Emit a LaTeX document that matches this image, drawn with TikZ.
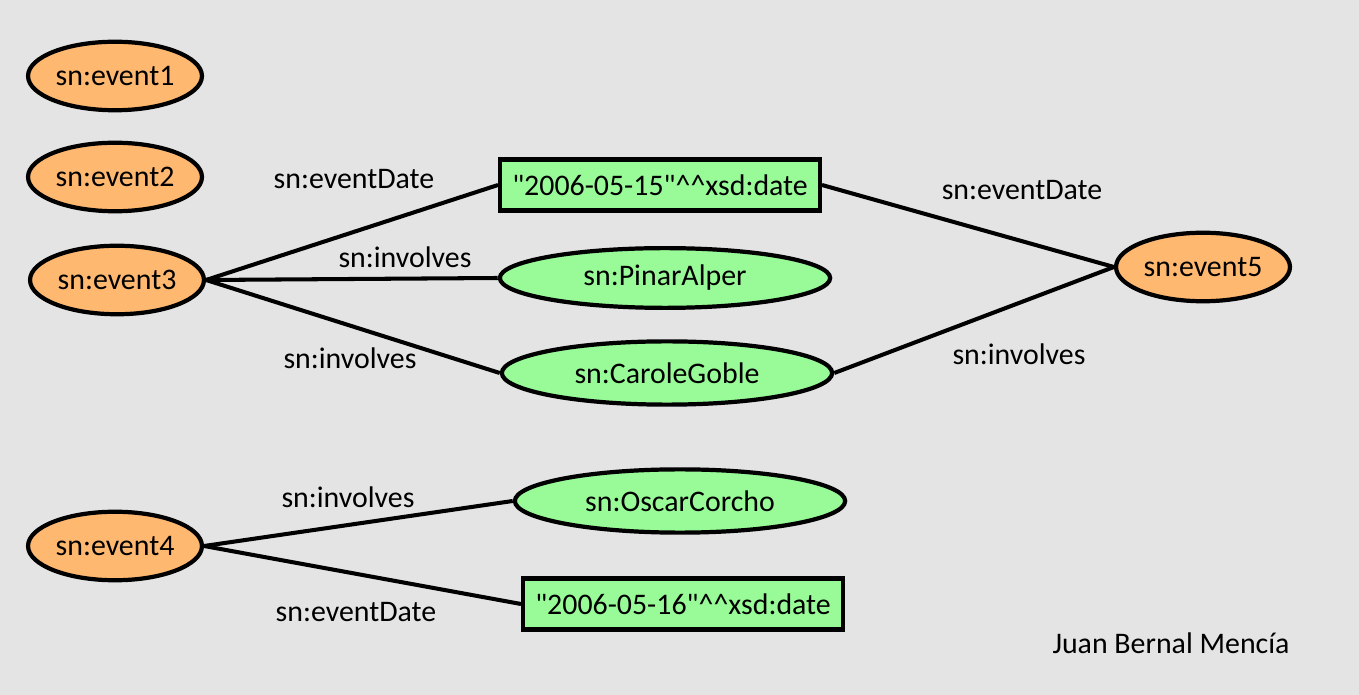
\documentclass[tikz,border=0pt]{standalone}
\usepackage{fontspec}
\setmainfont{Carlito}[Ligatures=TeXOff]
\usetikzlibrary{shapes.geometric}
\definecolor{evorange}{RGB}{255,184,112}
\definecolor{litgreen}{RGB}{152,251,152}
\definecolor{bggray}{RGB}{228,228,228}

\begin{document}
\begin{tikzpicture}[x=0.02cm, y=-0.02cm,
    font=\fontsize{17}{20}\selectfont,
    event/.style={ellipse, draw, line width=2.4pt, fill=evorange, inner sep=0pt,
      minimum width=99pt, minimum height=39pt},
    person/.style={ellipse, draw, line width=2.4pt, fill=litgreen, inner sep=0pt,
      minimum width=188pt, minimum height=34pt},
    literal/.style={rectangle, draw, line width=2.4pt, fill=litgreen, inner sep=0pt,
      minimum width=182pt, minimum height=29pt},
    link/.style={line width=2.3pt}]
  % fondo
  \fill[bggray] (0,0) rectangle (1359,695);
  \useasboundingbox (0,0) rectangle (1359,695);

  % eventos
  \node[event] (e1) at (115,76)   {sn:event1};
  \node[event] (e2) at (115,177)  {sn:event2};
  \node[event] (e3) at (117,280)  {sn:event3};
  \node[event] (e4) at (115,546)  {sn:event4};
  \node[event] (e5) at (1203,267) {sn:event5};

  % literales
  \node[literal] (d1) at (660,185) {"2006-05-15"\^{}\^{}xsd:date};
  \node[literal] (d2) at (683,604) {"2006-05-16"\^{}\^{}xsd:date};

  % personas
  \node[person] (pa) at (665,278) {sn:PinarAlper};
  \node[person, minimum height=36pt] (cg) at (667,373) {sn:CaroleGoble};
  \node[person, minimum height=36pt] (oc) at (680,501) {sn:OscarCorcho};

  % event3
  \draw[link] (e3.east) -- (d1.west);
  \draw[link] (e3.east) -- (pa.west);
  \draw[link] (e3.east) -- (cg.west);
  % event5
  \draw[link] (e5.west) -- (d1.east);
  \draw[link] (e5.west) -- (cg.east);
  % event4
  \draw[link] (e4.east) -- (oc.west);
  \draw[link] (e4.east) -- (d2.west);

  % etiquetas
  \node (l1) at (354,179)  {sn:eventDate};
  \node (l2) at (405,257)  {sn:involves};
  \node (l3) at (350,358)  {sn:involves};
  \node (l4) at (1022,190) {sn:eventDate};
  \node (l5) at (1019,354) {sn:involves};
  \node (l6) at (348,497)  {sn:involves};
  \node (l7) at (356,612)  {sn:eventDate};

  \node (autor) at (1171,643) {Juan Bernal Mencía};
\end{tikzpicture}
\end{document}
